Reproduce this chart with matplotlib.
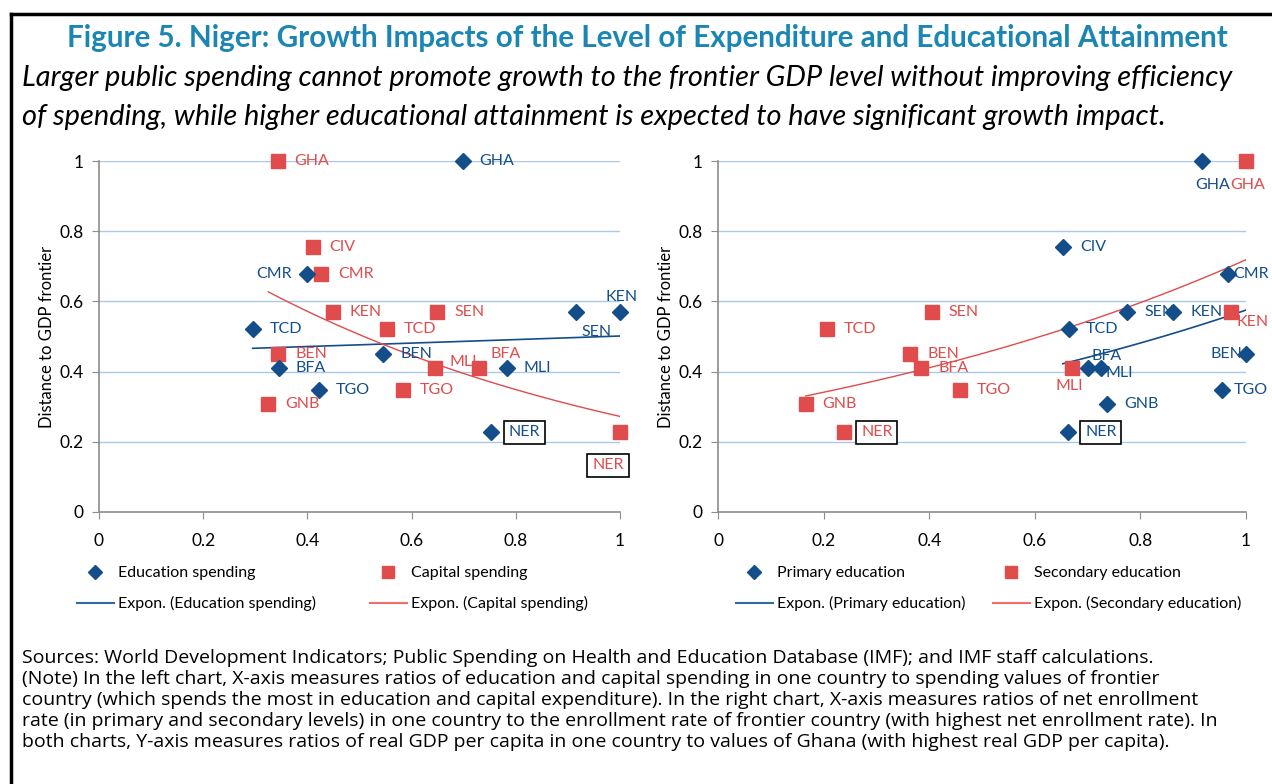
import numpy as np
import matplotlib
matplotlib.use("Agg")
import matplotlib.pyplot as plt
from matplotlib.lines import Line2D

# GDP per capita relative to Ghana (y axis, same for both panels)
gdp_ratio = {
    "GHA": 1.0, "CIV": 0.754, "CMR": 0.678, "KEN": 0.569, "SEN": 0.569,
    "TCD": 0.521, "BEN": 0.449, "BFA": 0.409, "MLI": 0.409, "TGO": 0.347,
    "GNB": 0.309, "NER": 0.227,
}

# left panel: spending relative to frontier
edu_countries = ["GHA", "CMR", "KEN", "SEN", "TCD", "BEN", "BFA", "MLI", "TGO", "NER"]
edu_spending = [0.698, 0.400, 1.000, 0.915, 0.295, 0.546, 0.345, 0.783, 0.422, 0.753]

cap_countries = ["GHA", "CIV", "CMR", "KEN", "SEN", "TCD", "BEN", "MLI", "BFA", "TGO", "GNB", "NER"]
cap_spending = [0.343, 0.410, 0.426, 0.449, 0.649, 0.552, 0.344, 0.644, 0.730, 0.583, 0.325, 1.000]

# right panel: net enrollment relative to frontier
pri_countries = ["GHA", "CIV", "CMR", "SEN", "KEN", "TCD", "BFA", "MLI", "GNB", "NER", "BEN", "TGO"]
pri_enroll = [0.917, 0.653, 0.966, 0.775, 0.862, 0.665, 0.700, 0.725, 0.737, 0.663, 1.000, 0.954]

sec_countries = ["GHA", "KEN", "SEN", "TCD", "BEN", "BFA", "TGO", "GNB", "NER", "MLI"]
sec_enroll = [1.000, 0.972, 0.405, 0.206, 0.364, 0.385, 0.458, 0.166, 0.239, 0.671]

BLUE = "#144e8a"
RED = "#e04b4b"
GRID = "#a9c9ea"
SPINE = "#8c8c8c"

# label offsets in pixels (dx, dy, ha); default is to the right of the marker
DEFAULT = (17, 0, "left")
edu_offsets = {"CMR": (-16, 0, "right"), "KEN": (2, 15, "center"), "SEN": (6, -20, "left")}
cap_offsets = {"MLI": (15, 6, "left"), "BFA": (11, 14, "left"), "NER": (-12, -33, "center")}
pri_offsets = {"GHA": (11, -24, "center"), "CMR": (5, 0, "left"), "BFA": (4, 12, "left"),
               "MLI": (5, -5, "left"), "BEN": (-4, 0, "right"), "TGO": (12, 0, "left")}
sec_offsets = {"GHA": (2, -24, "center"), "KEN": (5, -10, "left"), "MLI": (-3, -18, "center")}

plt.rcParams["font.family"] = ["Lato", "DejaVu Sans"]
PX = 72 / 100  # points per pixel

fig = plt.figure(figsize=(12.72, 7.84), dpi=100)


def expon_fit(x, y):
    x = np.asarray(x)
    b, a = np.polyfit(x, np.log(y), 1)
    xs = np.linspace(x.min(), x.max(), 50)
    return xs, np.exp(a + b * xs)


def add_labels(ax, countries, xs, color, offsets):
    for c, x in zip(countries, xs):
        dx, dy, ha = offsets.get(c, DEFAULT)
        box = None
        if c == "NER":
            box = dict(boxstyle="square,pad=0.3", fc="white", ec="black", lw=1.2)
        ax.annotate(c, (x, gdp_ratio[c]), xytext=(dx * PX, dy * PX),
                    textcoords="offset points", ha=ha, va="center",
                    color=color, fontsize=11.5, bbox=box, zorder=5,
                    annotation_clip=False)


def setup_axes(ax):
    ax.set_xlim(0, 1)
    ax.set_ylim(0, 1)
    ax.set_xticks(np.arange(0, 1.01, 0.2))
    ax.set_yticks(np.arange(0, 1.01, 0.2))
    ax.set_xticklabels(["0", "0.2", "0.4", "0.6", "0.8", "1"])
    ax.set_yticklabels(["0", "0.2", "0.4", "0.6", "0.8", "1"])
    for s in ["top", "right"]:
        ax.spines[s].set_visible(False)
    for s in ["left", "bottom"]:
        ax.spines[s].set_color(SPINE)
        ax.spines[s].set_linewidth(1.2)
    ax.tick_params(direction="out", length=5, color=SPINE, labelsize=12.5, pad=6)
    ax.tick_params(axis="x", pad=10)
    for yv in np.arange(0.2, 1.01, 0.2):
        ax.axhline(yv, color=GRID, lw=1, zorder=0)
    ax.set_ylabel("Distance to GDP frontier", fontsize=12, labelpad=3)


def panel(ax, bx, bc, rx, rc, boff, roff):
    setup_axes(ax)
    by = [gdp_ratio[c] for c in bc]
    ry = [gdp_ratio[c] for c in rc]
    ax.plot(bx, by, "D", color=BLUE, ms=8, clip_on=False, zorder=4)
    ax.plot(rx, ry, "s", color=RED, ms=9.5, clip_on=False, zorder=3)
    fx, fy = expon_fit(bx, by)
    ax.plot(fx, fy, color=BLUE, lw=1.2, zorder=2)
    fx, fy = expon_fit(rx, ry)
    ax.plot(fx, fy, color=RED, lw=1.0, zorder=2)
    add_labels(ax, bc, bx, BLUE, boff)
    add_labels(ax, rc, rx, RED, roff)


axL = fig.add_axes([99 / 1272, 1 - 512 / 784, 521 / 1272, 351 / 784])
axR = fig.add_axes([718 / 1272, 1 - 512 / 784, 528 / 1272, 351 / 784])
panel(axL, edu_spending, edu_countries, cap_spending, cap_countries, edu_offsets, cap_offsets)
panel(axR, pri_enroll, pri_countries, sec_enroll, sec_countries, pri_offsets, sec_offsets)


# legends, one column at a time
def legend_col(x_px, handles, labels):
    fig.legend(handles, labels, loc="upper left", bbox_to_anchor=(x_px / 1272, 1 - 566 / 784),
               frameon=False, fontsize=11.5, handlelength=2.3, handletextpad=0.25,
               labelspacing=1.0, borderpad=0, borderaxespad=0, numpoints=1)


d = Line2D([], [], marker="D", ls="none", color=BLUE, ms=7)
s = Line2D([], [], marker="s", ls="none", color=RED, ms=8.5)
lb = Line2D([], [], color="#2f6aa3", lw=1.5)
lr = Line2D([], [], color="#ee6e6e", lw=1.5)
legend_col(77, [d, lb], ["Education spending", "Expon. (Education spending)"])
legend_col(370, [s, lr], ["Capital spending", "Expon. (Capital spending)"])
legend_col(736, [d, lb], ["Primary education", "Expon. (Primary education)"])
legend_col(993, [s, lr], ["Secondary education", "Expon. (Secondary education)"])

# title and subtitle
fig.text(647 / 1272, 1 - 38 / 784, "Figure 5. Niger: Growth Impacts of the Level of Expenditure and Educational Attainment",
         ha="center", va="center", fontsize=21.3, fontweight="bold", color="#1b86b4")
fig.text(22 / 1272, 1 - 78 / 784,
         "Larger public spending cannot promote growth to the frontier GDP level without improving efficiency",
         ha="left", va="center", fontsize=20.9, style="italic")
fig.text(22 / 1272, 1 - 117 / 784,
         "of spending, while higher educational attainment is expected to have significant growth impact.",
         ha="left", va="center", fontsize=20.9, style="italic")

notes = [
    "Sources: World Development Indicators; Public Spending on Health and Education Database (IMF); and IMF staff calculations.",
    "(Note) In the left chart, X-axis measures ratios of education and capital spending in one country to spending values of frontier",
    "country (which spends the most in education and capital expenditure). In the right chart, X-axis measures ratios of net enrollment",
    "rate (in primary and secondary levels) in one country to the enrollment rate of frontier country (with highest net enrollment rate). In",
    "both charts, Y-axis measures ratios of real GDP per capita in one country to values of Ghana (with highest real GDP per capita).",
]
for i, line in enumerate(notes):
    fig.text(22 / 1272, 1 - (658 + 21 * i) / 784, line, ha="left", va="center",
             fontsize=14, family=["Open Sans", "DejaVu Sans"])

# frame lines (top and left)
fig.add_artist(Line2D([11 / 1272, 11 / 1272], [0, 1 - 14 / 784], color="black", lw=2.5))
fig.add_artist(Line2D([11 / 1272, 1], [1 - 14 / 784, 1 - 14 / 784], color="black", lw=2.5))

fig.savefig("out.png", dpi=100)
